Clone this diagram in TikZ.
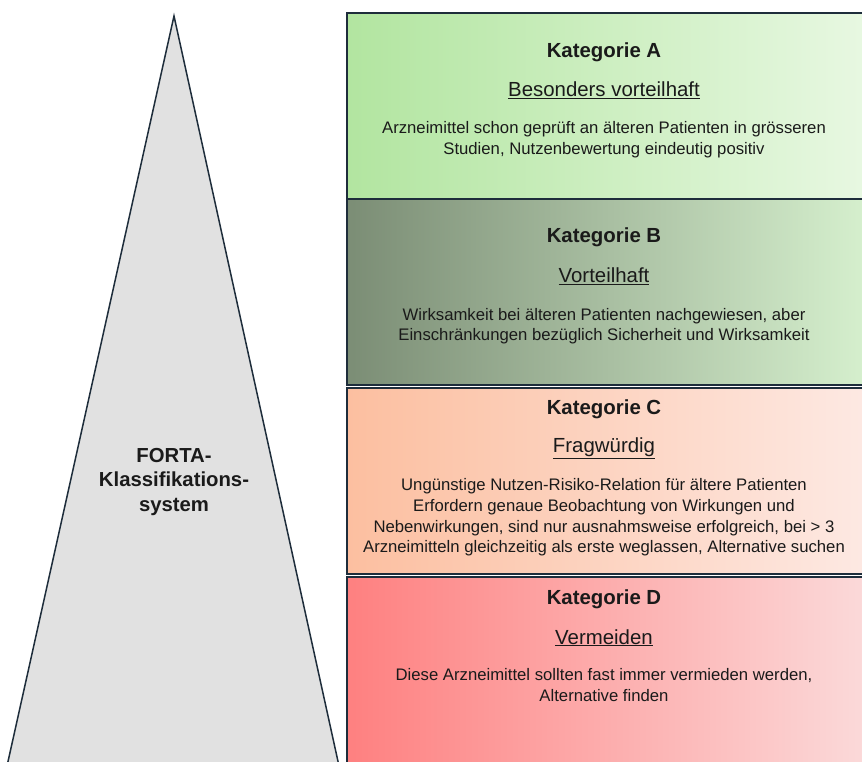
\documentclass[tikz,border=0pt]{standalone}
\usepackage{fontspec}
\setmainfont{Liberation Sans}
\usetikzlibrary{positioning}
\definecolor{RAND}{HTML}{1E2D3B}
\definecolor{TEXT}{HTML}{1A1A1A}
\definecolor{GRAU}{HTML}{E1E1E1}
\definecolor{A_L}{HTML}{B2E5A0}
\definecolor{A_R}{HTML}{E8F8E2}
\definecolor{B_L}{HTML}{7B8D75}
\definecolor{B_R}{HTML}{D6F0CE}
\definecolor{C_L}{HTML}{FCBFA0}
\definecolor{C_R}{HTML}{FDE9E3}
\definecolor{D_L}{HTML}{FE8080}
\definecolor{D_R}{HTML}{FBDADA}
\tikzset{
	katbox/.style = {draw=RAND, line width=1.5pt, minimum width=522, minimum height=186,
		anchor=north west, inner sep=0pt, shading angle=0},
	titel/.style = {font=\fontsize{20.4}{24}\selectfont\bfseries, text=TEXT, anchor=base, inner sep=0pt},
	untertitel/.style = {font=\fontsize{20.4}{24}\selectfont, text=TEXT, anchor=base, inner sep=0pt},
	beschreibung/.style = {font=\fontsize{16.7}{20.7}\selectfont, text=TEXT, align=center, anchor=base, inner sep=0pt},
	forta/.style = {font=\fontsize{20.3}{24.5}\selectfont\bfseries, text=TEXT, align=center}
}

\begin{document}
\begin{tikzpicture}[x=1pt, y=-1pt]
		\useasboundingbox (0,0) rectangle (862,761);
		\clip (0,0) rectangle (862,761);
		% pyramid
		\draw[fill=GRAU, draw=RAND, line width=1.5pt] (174,16) -- (5,775) -- (341,775) -- cycle;
		\node[forta] (system) at (174,482) {FORTA-\\Klassifikations-\\system};
		
		% categories
		\node[katbox, left color=A_L, right color=A_R] (katA) at (346,12) {};
		\node[katbox, left color=B_L, right color=B_R] (katB) at (346,198) {};
		\node[katbox, left color=C_L, right color=C_R] (katC) at (346,387) {};
		\node[katbox, left color=D_L, right color=D_R, minimum height=200] (katD) at (346,576) {};
		
		% A
		\node[titel] (titelA) at (604,57) {Kategorie A};
		\node[untertitel] (untA) at (604,96.5) {\underline{Besonders vorteilhaft}};
		\node[beschreibung] (textA) at (604,154) {Arzneimittel schon geprüft an älteren Patienten in grösseren\\
			Studien, Nutzenbewertung eindeutig positiv};
		% B
		\node[titel] (titelB) at (604,242.7) {Kategorie B};
		\node[untertitel] (untB) at (604,282.7) {\underline{Vorteilhaft}};
		\node[beschreibung] (textB) at (604,340.7) {Wirksamkeit bei älteren Patienten nachgewiesen, aber\\
			Einschränkungen bezüglich Sicherheit und Wirksamkeit};
		% C
		\node[titel] (titelC) at (604,414) {Kategorie C};
		\node[untertitel] (untC) at (604,452.7) {\underline{Fragwürdig}};
		\node[beschreibung] (textC) at (604,552.7) {Ungünstige Nutzen-Risiko-Relation für ältere Patienten\\
			Erfordern genaue Beobachtung von Wirkungen und\\
			Nebenwirkungen, sind nur ausnahmsweise erfolgreich, bei > 3\\
			Arzneimitteln gleichzeitig als erste weglassen, Alternative suchen};
		% D
		\node[titel] (titelD) at (604,604) {Kategorie D};
		\node[untertitel] (untD) at (604,644) {\underline{Vermeiden}};
		\node[beschreibung] (textD) at (604,701) {Diese Arzneimittel sollten fast immer vermieden werden,\\
			Alternative finden};
	\end{tikzpicture}
\end{document}
